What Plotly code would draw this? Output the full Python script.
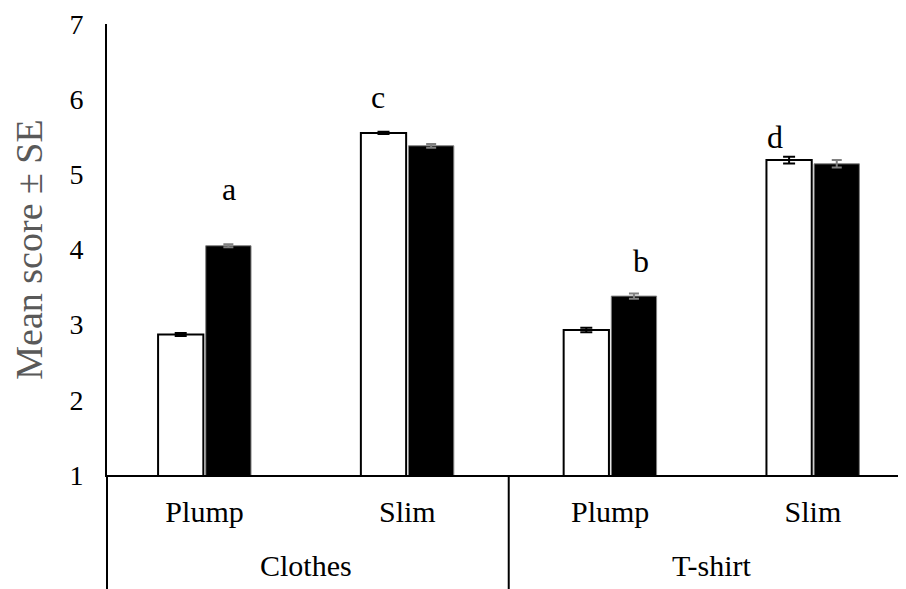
import plotly.graph_objects as go

# ---- data ----
subcategories = ["Plump", "Slim", "Plump", "Slim"]
groups = ["Clothes", "T-shirt"]
white_means = [2.87, 5.55, 2.93, 5.19]
white_se = [0.02, 0.015, 0.03, 0.045]
black_means = [4.05, 5.38, 3.38, 5.14]
black_se = [0.02, 0.025, 0.035, 0.05]
letters = ["a", "c", "b", "d"]
y_ticks = [1, 2, 3, 4, 5, 6, 7]

FONT = "Liberation Serif, Times New Roman, serif"
xpos = list(range(len(subcategories)))

fig = go.Figure()
fig.add_trace(go.Bar(
    x=xpos, y=white_means, name="Series 1",
    marker=dict(color="white", line=dict(color="black", width=2)),
    error_y=dict(type="data", array=white_se, color="black", thickness=2, width=6),
))
fig.add_trace(go.Bar(
    x=xpos, y=black_means, name="Series 2",
    marker=dict(color="black", line=dict(color="#808080", width=1)),
    error_y=dict(type="data", array=black_se, color="#808080", thickness=2, width=5),
))

# significance letters (offset relative to category centre)
letter_offsets = [0.12, -0.145, 0.15, -0.185]
letter_heights = [4.80, 6.03, 3.85, 5.50]
for i, (lt, off, h) in enumerate(zip(letters, letter_offsets, letter_heights)):
    fig.add_annotation(x=xpos[i] + off, y=h, text=lt, showarrow=False,
                       font=dict(family=FONT, size=32, color="black"))

# group labels
for gi, g in enumerate(groups):
    fig.add_annotation(x=gi * 2 + 0.5, xref="x", y=-0.2, yref="paper", text=g,
                       showarrow=False, yanchor="middle",
                       font=dict(family=FONT, size=30, color="black"))

# separator lines below the axis
fig.add_shape(type="line", xref="x", yref="paper", x0=1.5, x1=1.5, y0=0, y1=-0.3,
              line=dict(color="black", width=2))
fig.add_shape(type="line", xref="paper", yref="paper", x0=0, x1=0, y0=0, y1=-0.3,
              line=dict(color="black", width=2))

fig.update_layout(
    width=898, height=581,
    margin=dict(l=99, r=0, t=16, b=114),
    plot_bgcolor="white", paper_bgcolor="white",
    barmode="group", bargap=0.53, bargroupgap=0.05,
    showlegend=False,
    font=dict(family=FONT, size=28, color="black"),
    xaxis=dict(
        tickmode="array", tickvals=xpos, ticktext=subcategories,
        range=[-0.481, 3.459], showgrid=False, zeroline=False,
        showline=True, linecolor="black", linewidth=2,
        ticks="", ticklabelstandoff=9,
        tickfont=dict(family=FONT, size=30, color="black"),
    ),
    yaxis=dict(
        range=[1, 7], tickvals=y_ticks, showgrid=False, zeroline=False,
        showline=True, linecolor="black", linewidth=2,
        ticks="", ticklabelstandoff=16,
        tickfont=dict(family=FONT, size=28, color="black"),
        title=dict(text="Mean score ± SE", standoff=24,
                   font=dict(family=FONT, size=38, color="#595959")),
    ),
)

fig.write_html("out.html")
